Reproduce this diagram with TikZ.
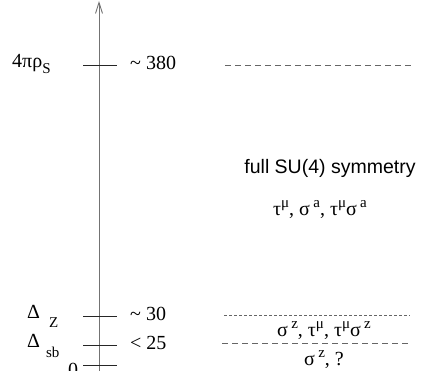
\documentclass[tikz,border=0pt]{standalone}
\usepackage{fontspec}
\setmainfont{Liberation Serif}
\newfontfamily\helv{Liberation Sans}
\usepackage{tikz}
\usetikzlibrary{arrows.meta}

\newcommand{\supx}[1]{\raisebox{0.4em}{\fontsize{15}{15}\selectfont #1}}
\newcommand{\subx}[1]{\raisebox{-0.28em}{\fontsize{15}{15}\selectfont #1}}

\begin{document}
\begin{tikzpicture}[
        x=1pt, y=-1pt,
        axis/.style={
            draw=black!55,
            line width=0.9pt,
            -{Straight Barb[length=11pt,width=7pt,line width=0.9pt]}
        },
        tick/.style={
            draw=black!85,
            line width=0.8pt
        },
        level/.style={
            draw=black!60,
            line width=0.8pt,
            dash pattern=on 5.5pt off 4.5pt
        },
        finelevel/.style={
            draw=black!60,
            line width=0.7pt,
            dash pattern=on 3pt off 2pt
        },
        lab/.style={
            inner sep=0pt,
            font=\fontsize{20}{24}\selectfont
        }
    ]
        \useasboundingbox (0,0) rectangle (425,371);

        % energy axis
        \coordinate (bot) at (99,371);
        \coordinate (top) at (99,1);
        \draw[axis] (bot) -- (top);

        \foreach \y in {65,316,345,365} {
            \draw[tick] (83,\y) -- (117,\y);
        }

        % scales on the left
        \node[lab, anchor=base west] (rhos) at (12,68) {4πρ\subx{S}};
        \node[lab, anchor=base west] (dz) at (27,318)
            {Δ\hspace{9pt}\raisebox{-9pt}{\fontsize{15}{15}\selectfont Z}};
        \node[lab, anchor=base west] (dsb) at (27,347)
            {Δ\hspace{6pt}\raisebox{-10pt}{\fontsize{15}{15}\selectfont sb}};
        \node[lab, anchor=base west] (zero) at (68,376) {0};

        % values on the right
        \node[lab, anchor=base west] (v380) at (130,70) {{\char"7E} 380};
        \node[lab, anchor=base west] (v30) at (130,320) {{\char"7E} 30};
        \node[lab, anchor=base west] (v25) at (130,349) {< 25};

        % regimes
        \draw[level] (225,65) -- (411,65);
        \draw[finelevel] (224,315) -- (410,315);
        \draw[level] (222,343) -- (412,343);

        \node[lab, anchor=base, font=\helv\fontsize{19.5}{24}\selectfont] (full) at (330,174)
            {full SU(4) symmetry};
        \node[lab, anchor=base] (gen1) at (320,215)
            {τ\supx{μ}, σ\,\supx{a}, τ\supx{μ}σ\,\supx{a}};
        \node[lab, anchor=base] (gen2) at (324,336)
            {σ\,\supx{z}, τ\supx{μ}, τ\supx{μ}σ\,\supx{z}};
        \node[lab, anchor=base] (gen3) at (324,365) {σ\,\supx{z}, ?};

    \end{tikzpicture}
\end{document}
